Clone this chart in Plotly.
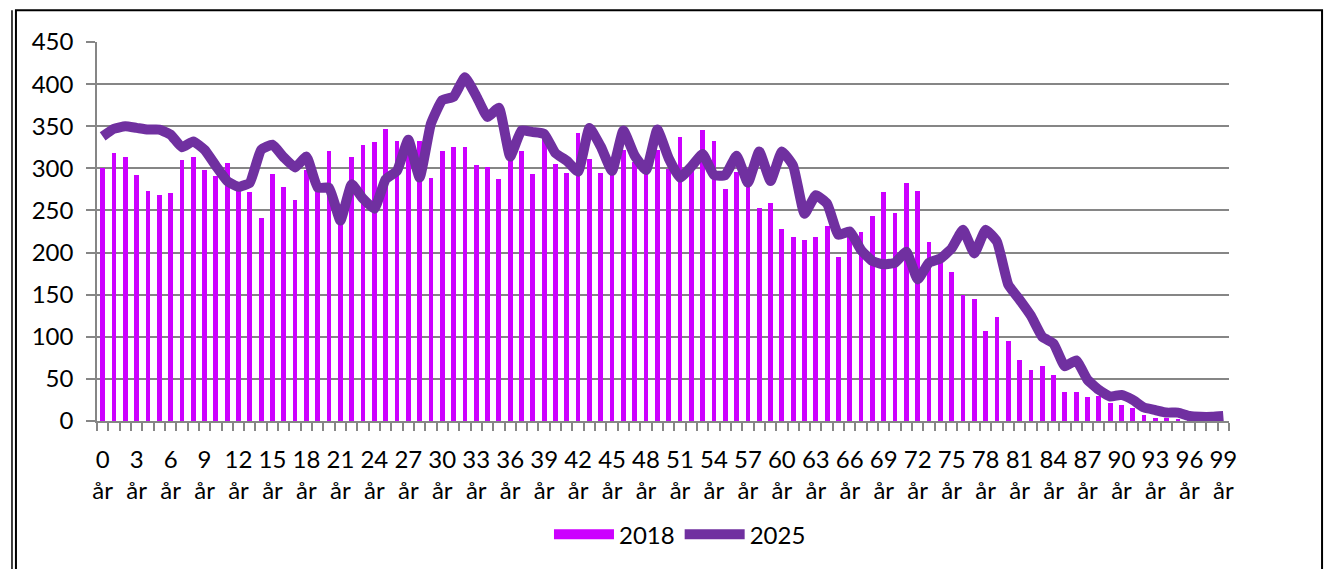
import plotly.graph_objs as go

# ages 0..99, labels shown every third year
ages = list(range(100))
tick_ages = list(range(0, 100, 3))
tick_text = [str(a) + "<br>år" for a in tick_ages]

pop_2018 = [300, 318, 314, 292, 273, 268, 271, 310, 313, 298,
            291, 306, 276, 272, 241, 293, 278, 263, 298, 276,
            321, 252, 314, 328, 331, 347, 333, 322, 333, 289,
            320, 325, 325, 304, 301, 287, 315, 321, 293, 338,
            305, 295, 342, 311, 294, 300, 322, 307, 295, 322,
            299, 337, 300, 345, 333, 276, 296, 284, 253, 259,
            228, 218, 215, 218, 232, 195, 221, 225, 243, 272,
            247, 282, 273, 212, 190, 177, 150, 145, 107, 123,
            95, 73, 61, 65, 55, 35, 34, 28, 30, 21,
            19, 15, 7, 4, 3, 2, 1, 1, 0, 0]

pop_2025 = [338, 347, 350, 348, 346, 346, 340, 325, 332, 322,
            303, 285, 278, 283, 322, 328, 313, 301, 314, 277,
            277, 238, 281, 264, 252, 287, 297, 334, 289, 353,
            381, 385, 408, 386, 361, 372, 314, 345, 343, 341,
            318, 309, 296, 348, 326, 297, 345, 315, 298, 346,
            312, 289, 302, 317, 292, 292, 315, 283, 320, 285,
            320, 303, 246, 268, 258, 221, 225, 203, 190, 186,
            188, 201, 168, 188, 193, 205, 227, 199, 227, 213,
            162, 144, 125, 100, 92, 65, 72, 49, 37, 29,
            31, 25, 16, 13, 10, 10, 6, 5, 5, 6]

grid = "#868686"
bar_col = "#CC00FF"
line_col = "#7030A0"

fig = go.Figure()
fig.add_trace(go.Bar(x=ages, y=pop_2018, name="2018", marker_color=bar_col,
                     marker_line_width=0, width=0.42, showlegend=False))
# legend entry drawn as a wide block like the original
fig.add_trace(go.Scatter(x=[None], y=[None], name="2018", mode="lines",
                         line=dict(color=bar_col, width=16)))
fig.add_trace(go.Scatter(x=ages, y=pop_2025, name="2025", mode="lines",
                         line=dict(color=line_col, width=10, shape="spline", smoothing=0.4)))

# outer frame of the figure box
fig.add_shape(type="rect", xref="paper", yref="paper",
              x0=-0.0716, x1=1.0822, y0=-0.42, y1=1.0836,
              line=dict(color="black", width=2))
fig.add_shape(type="line", xref="paper", yref="paper",
              x0=-0.0751, x1=-0.0751, y0=-0.42, y1=1.0836,
              line=dict(color="black", width=1.5))

fig.update_layout(
    width=1317, height=561,
    margin=dict(l=89, r=96, t=34, b=140),
    paper_bgcolor="white", plot_bgcolor="white",
    font=dict(family="Lato", size=24, color="black"),
    bargap=0,
    showlegend=True,
    legend=dict(orientation="h", x=0.515, xanchor="center", y=-0.3, yanchor="middle",
                font=dict(size=24), itemwidth=60),
    xaxis=dict(range=[-0.5, 99.5], tickmode="array", tickvals=tick_ages, ticktext=tick_text,
               ticks="", ticklabelstandoff=16, showgrid=False, showline=True,
               linecolor=grid, linewidth=1.5, zeroline=False, automargin=False,
               minor=dict(ticks="outside", tickmode="linear", tick0=0.5, dtick=1,
                          ticklen=8, tickcolor=grid, tickwidth=1.5, showgrid=False)),
    yaxis=dict(range=[0, 450], dtick=50, showgrid=True, gridcolor=grid, gridwidth=1.5,
               showline=True, linecolor=grid, linewidth=1.5, zeroline=False, automargin=False,
               ticks="outside", ticklen=9, tickcolor=grid, tickwidth=1.5,
               ticklabelstandoff=8),
)

fig.write_html("out.html")
